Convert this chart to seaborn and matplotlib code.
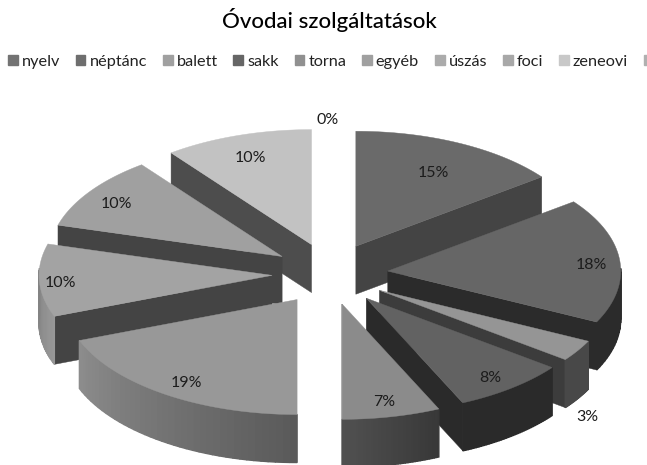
import numpy as np
import seaborn as sns
import matplotlib.pyplot as plt
from matplotlib.patches import Patch

categories = ['nyelv', 'néptánc', 'balett', 'sakk', 'torna', 'egyéb', 'úszás', 'foci', 'zeneovi', '']
values = [14.7, 17.6, 3.0, 7.9, 6.8, 19.2, 10.2, 10.3, 10.3, 0.0]
labels = ['15%', '18%', '3%', '8%', '7%', '19%', '10%', '10%', '10%', '0%']
top_colors = ['#6a6a6a', '#666666', '#959595', '#626262', '#8b8b8b', '#989898', '#a3a3a3', '#a0a0a0', '#c2c2c2', '#b0b0b0']
cut_colors = ['#444444', '#2b2b2b', '#3c3c3c', '#2a2a2a', '#404040', '#5a5a5a', '#444444', '#444444', '#4d4d4d', '#4d4d4d']
rim_start = ['#444444', '#2b2b2b', '#484848', '#2a2a2a', '#383838', '#5a5a5a', '#989898', '#8f8f8f', '#8f8f8f', '#8f8f8f']
rim_end = ['#444444', '#2b2b2b', '#484848', '#2a2a2a', '#505050', '#8c8c8c', '#787878', '#8f8f8f', '#8f8f8f', '#8f8f8f']
legend_colors = ['#737373', '#6e6e6e', '#a0a0a0', '#666666', '#909090', '#a0a0a0', '#ababab', '#a8a8a8', '#c8c8c8', '#b0b0b0']
label_frac = [0.75, 0.88, 1.05, 0.85, 0.84, 0.84, 0.91, 0.86, 0.83, 1.1]

# pie geometry, in picture pixels
cx, cy = 330, 274
rx, ry = 233, 115
ex, ey = 58, 31
depth = 48

sns.set_theme(style='white')
plt.rcParams['font.family'] = ['Lato', 'DejaVu Sans']

fig = plt.figure(figsize=(6.47, 4.65), dpi=100)
ax = fig.add_axes([0, 0, 1, 1])
ax.set_xlim(0, 647)
ax.set_ylim(465, 0)
ax.axis('off')

edges = np.cumsum([0] + values) / sum(values) * 2 * np.pi
mids = (edges[:-1] + edges[1:]) / 2


def side(a0, a1, color, lw=0.3):
    # flat quad hanging below a top edge
    xs = [a0[0], a1[0], a1[0], a0[0]]
    ys = [a0[1], a1[1], a1[1] + depth, a0[1] + depth]
    ax.fill(xs, ys, color=color, lw=lw)


# back slices first, so the front ones cover them
order = sorted(range(len(values)), key=lambda i: -abs(mids[i] - np.pi))
for i in order:
    if values[i] == 0:
        continue
    ax0 = cx + ex * np.sin(mids[i])
    ay0 = cy - ey * np.cos(mids[i])
    t = np.linspace(edges[i], edges[i + 1], 40)
    xs = ax0 + rx * np.sin(t)
    ys = ay0 - ry * np.cos(t)
    # only the cut faces turned to the viewer
    if np.sin(edges[i]) < 0:
        side((ax0, ay0), (xs[0], ys[0]), cut_colors[i])
    if np.sin(edges[i + 1]) > 0:
        side((ax0, ay0), (xs[-1], ys[-1]), cut_colors[i])
    shades = sns.blend_palette([rim_start[i], rim_end[i]], len(t) - 1)
    for j in range(len(t) - 1):
        if np.cos(t[j]) < 0.05:
            side((xs[j], ys[j]), (xs[j + 1], ys[j + 1]), shades[j], lw=1)
    ax.fill(np.r_[ax0, xs], np.r_[ay0, ys], color=top_colors[i], lw=0.3)

for i, lab in enumerate(labels):
    lx = cx + ex * np.sin(mids[i]) + label_frac[i] * rx * np.sin(mids[i])
    ly = cy - ey * np.cos(mids[i]) - label_frac[i] * ry * np.cos(mids[i]) + 3.5
    if values[i] == 0:
        lx -= 2
    elif values[i] < 5:
        ly += depth + 12
    ax.text(lx, ly, lab, ha='center', va='center', fontsize=11.5, color='#1c1c1c')

ax.text(329, 20, 'Óvodai szolgáltatások', ha='center', va='center', fontsize=16,
        fontweight='medium', color='black')

handles = [Patch(color=c) for c in legend_colors]
ax.legend(handles, categories, ncol=10, loc='center left', bbox_to_anchor=(0.012, 0.867),
          frameon=False, fontsize=11.7, handlelength=0.6, handleheight=0.6, handletextpad=0.25,
          columnspacing=0.97, borderpad=0, borderaxespad=0, labelcolor='#222222')

fig.savefig('out.png', dpi=100)
